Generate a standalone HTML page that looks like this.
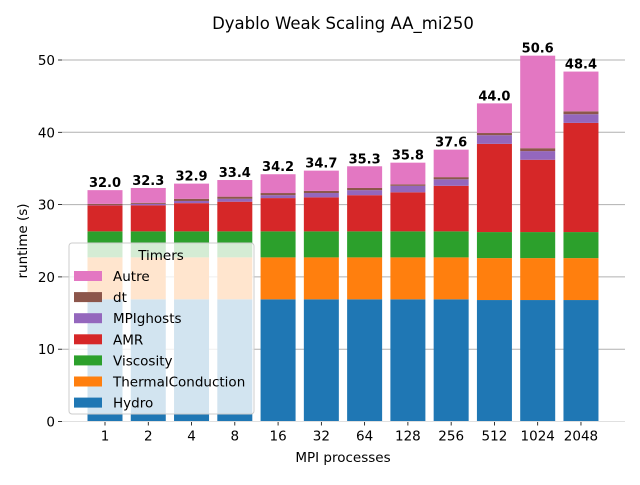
<!DOCTYPE html>
<html><head><meta charset="utf-8"><style>
body{margin:0;background:#fff;}
svg text{font-family:"DejaVu Sans","Liberation Sans",sans-serif;}
</style></head><body>
<svg id="chart" width="640" height="480" viewBox="0 0 640 480" xmlns="http://www.w3.org/2000/svg">
<rect width="640" height="480" fill="#fff"/>
<text x="343" y="29" text-anchor="middle" font-size="16.5" fill="#000">Dyablo Weak Scaling AA_mi250</text>
<g id="grid"></g><g id="bars"></g><g id="axes"></g><g id="legend"></g>
</svg>
<script>
const categories=["1","2","4","8","16","32","64","128","256","512","1024","2048"];
const hydro=[16.9,16.9,16.9,16.9,16.9,16.9,16.9,16.9,16.9,16.8,16.8,16.8];
const thermal=[5.8,5.8,5.8,5.8,5.8,5.8,5.8,5.8,5.8,5.8,5.8,5.8];
const viscosity=[3.6,3.6,3.6,3.6,3.6,3.6,3.6,3.6,3.6,3.6,3.6,3.6];
const amr=[3.6,3.6,3.9,4.1,4.6,4.7,5.0,5.4,6.3,12.2,10.0,15.1];
const mpighosts=[0.05,0.2,0.3,0.4,0.4,0.6,0.7,0.9,0.9,1.2,1.2,1.2];
const dt=[0.15,0.15,0.3,0.3,0.3,0.3,0.3,0.2,0.3,0.3,0.4,0.4];
const autre=[1.9,2.05,2.1,2.3,2.6,2.8,3.0,3.0,3.8,4.1,12.8,5.5];
const yTicks=[0,10,20,30,40,50];
const seriesNames=["Hydro","ThermalConduction","Viscosity","AMR","MPIghosts","dt","Autre"];
const seriesVals=[hydro,thermal,viscosity,amr,mpighosts,dt,autre];
const colors=["#1f77b4","#ff7f0e","#2ca02c","#d62728","#9467bd","#8c564b","#e377c2"];
const NS="http://www.w3.org/2000/svg";
const x0=62,x1=625,y0=421.5,pxPerUnit=7.23;
const step=43.27,firstC=105,bw=35;
function xScale(i){return firstC+i*step;}
function yScale(v){return y0-v*pxPerUnit;}
function mk(tag,attrs,parent){const e=document.createElementNS(NS,tag);for(const k in attrs)e.setAttribute(k,attrs[k]);parent.appendChild(e);return e;}
const grid=document.getElementById('grid'),bars=document.getElementById('bars'),axes=document.getElementById('axes'),legend=document.getElementById('legend');
yTicks.forEach(t=>{
  const y=yScale(t);
  const l=mk('line',{x1:x0,x2:x1,y1:y,y2:y,stroke:'#b0b0b0','stroke-width':1},grid);
  
  
  const tk=mk('line',{x1:x0-4,x2:x0,y1:y,y2:y,stroke:'#000','stroke-width':0.8},axes);
  
  
  const tx=mk('text',{x:x0-7,y:y+5,'text-anchor':'end','font-size':13.5},axes);
  tx.textContent=t;
  
  
});
categories.forEach((c,i)=>{
  const cx=xScale(i);let cum=0;
  seriesVals.forEach((s,k)=>{
    const v=s[i];
    const r=mk('rect',{x:cx-bw/2,y:yScale(cum+v),width:bw,height:v*pxPerUnit,fill:colors[k]},bars);
    
    
    cum+=v;
  });
  const lb=mk('text',{x:cx,y:yScale(cum)-3,'text-anchor':'middle','font-size':13,'font-weight':'bold'},bars);
  lb.textContent=cum.toFixed(1);
  
  
  const tk=mk('line',{x1:cx,x2:cx,y1:y0,y2:y0+4,stroke:'#000','stroke-width':0.8},axes);
  
  
  const tx=mk('text',{x:cx,y:y0+19,'text-anchor':'middle','font-size':13.5},axes);
  tx.textContent=c;
  
  
});
const bl=mk('line',{x1:x0,x2:x1,y1:y0,y2:y0,stroke:'#e0e0e0','stroke-width':1},axes);


const xt=mk('text',{x:343,y:462,'text-anchor':'middle','font-size':13.5},axes);
xt.textContent='MPI processes';


const yt=mk('text',{x:27,y:241,'text-anchor':'middle','font-size':13.5,transform:'rotate(-90 27 241)'},axes);
yt.textContent='runtime (s)';


const lbx=mk('rect',{x:69,y:243,width:185,height:171,rx:3,fill:'#fff','fill-opacity':0.8,stroke:'#ccc','stroke-width':1},legend);


const lt=mk('text',{x:161,y:260,'text-anchor':'middle','font-size':13.5},legend);
lt.textContent='Timers';


for(let k=6;k>=0;k--){
  const row=6-k;const y=276+row*21.1;
  const sw=mk('rect',{x:74,y:y-5,width:28,height:10,fill:colors[k]},legend);
  
  
  const t=mk('text',{x:113,y:y+5,'font-size':13.5},legend);
  t.textContent=seriesNames[k];
  
  
}
</script>
</body></html>
